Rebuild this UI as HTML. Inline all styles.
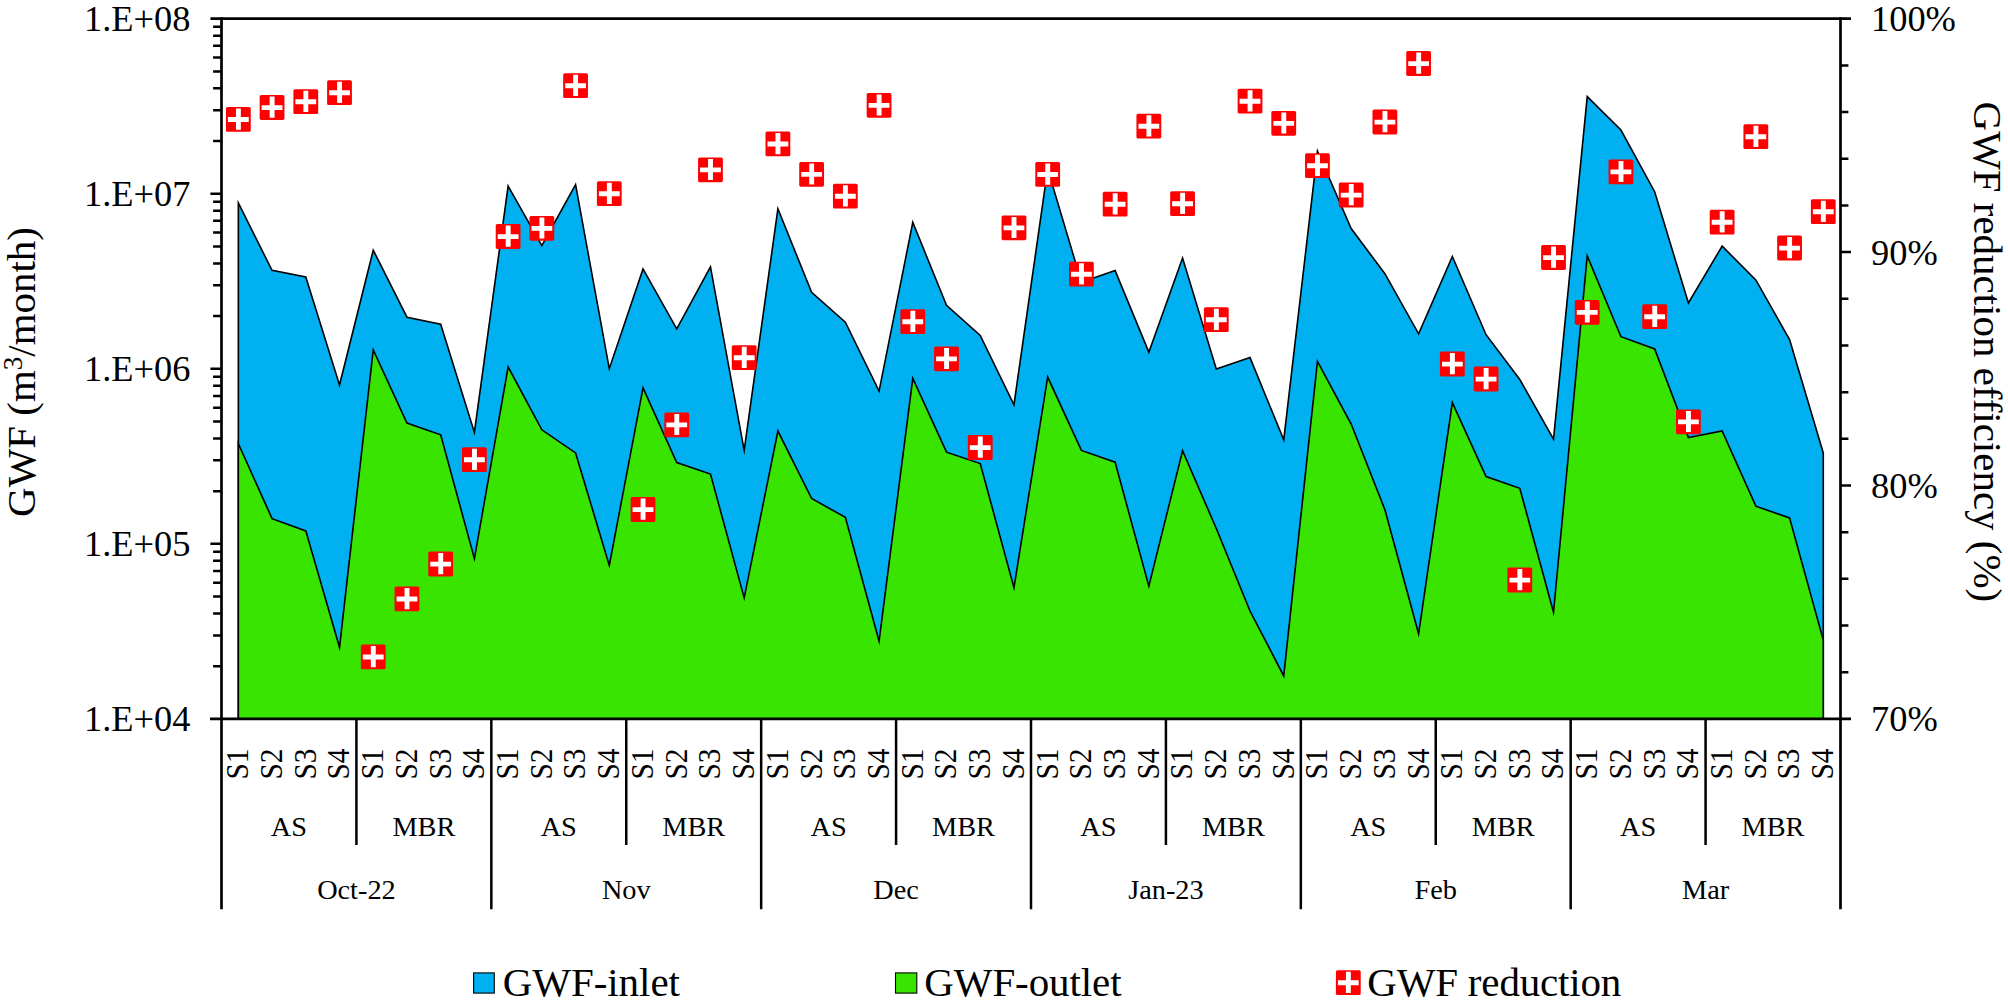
<!DOCTYPE html>
<html lang="en"><head><meta charset="utf-8"><title>GWF chart</title>
<style>html,body{margin:0;padding:0;background:#fff}svg{display:block}text{font-family:'Liberation Serif',serif;fill:#000}</style></head><body>
<svg width="2008" height="1008" viewBox="0 0 2008 1008">
<rect width="2008" height="1008" fill="#fff"/>
<polygon points="238.35,718.90 238.35,202.93 272.07,270.40 305.79,276.90 339.52,385.00 373.24,250.16 406.96,317.20 440.68,324.20 474.40,432.44 508.13,186.06 541.85,245.66 575.57,184.70 609.29,368.68 643.01,268.90 676.74,328.85 710.46,266.91 744.18,450.35 777.90,208.76 811.62,292.30 845.35,322.20 879.07,391.14 912.79,222.31 946.51,305.30 980.23,335.40 1013.96,404.73 1047.68,169.00 1081.40,282.18 1115.12,270.61 1148.84,352.17 1182.57,258.00 1216.29,368.98 1250.01,357.61 1283.73,439.88 1317.45,150.95 1351.18,228.60 1384.90,273.70 1418.62,333.79 1452.34,256.52 1486.06,334.70 1519.79,379.50 1553.51,439.18 1587.23,96.59 1620.95,130.00 1654.67,191.70 1688.40,303.00 1722.12,246.16 1755.84,279.90 1789.56,339.60 1823.28,452.90 1823.28,718.90" fill="#00B0F0" stroke="#000" stroke-width="1.6" stroke-linejoin="miter" stroke-miterlimit="10"/>
<polygon points="238.35,718.90 238.35,443.61 272.07,518.70 305.79,530.90 339.52,647.34 373.24,349.89 406.96,423.10 440.68,434.80 474.40,558.64 508.13,367.03 541.85,429.80 575.57,452.90 609.29,565.49 643.01,387.84 676.74,462.50 710.46,474.10 744.18,597.84 777.90,431.04 811.62,498.50 845.35,517.40 879.07,641.13 912.79,378.46 946.51,452.20 980.23,463.60 1013.96,587.67 1047.68,377.09 1081.40,450.40 1115.12,462.20 1148.84,586.19 1182.57,450.76 1216.29,528.50 1250.01,611.00 1283.73,675.92 1317.45,361.45 1351.18,424.00 1384.90,509.70 1418.62,633.71 1452.34,402.63 1486.06,476.60 1519.79,488.30 1553.51,612.24 1587.23,255.86 1620.95,336.70 1654.67,348.90 1688.40,437.53 1722.12,430.96 1755.84,506.20 1789.56,517.90 1823.28,640.00 1823.28,718.90" fill="#38E400" stroke="#000" stroke-width="1.6" stroke-linejoin="miter" stroke-miterlimit="10"/>
<g stroke="#000" fill="none" stroke-linecap="butt">
<path stroke-width="2.7" d="M210.40 18.70H1851.00"/>
<path stroke-width="2.7" d="M210.00 718.90H1851.00"/>
<path stroke-width="2.7" d="M221.50 17.35V909.20"/>
<path stroke-width="2.7" d="M1840.50 17.35V909.20"/>
<path stroke-width="2.5" d="M213.1 141.05H221.50M213.1 110.23H221.50M213.1 88.36H221.50M213.1 71.40H221.50M213.1 57.53H221.50M213.1 45.82H221.50M213.1 35.66H221.50M213.1 26.71H221.50M210.4 193.75H221.50M213.1 316.10H221.50M213.1 285.28H221.50M213.1 263.41H221.50M213.1 246.45H221.50M213.1 232.58H221.50M213.1 220.87H221.50M213.1 210.71H221.50M213.1 201.76H221.50M210.4 368.80H221.50M213.1 491.15H221.50M213.1 460.33H221.50M213.1 438.46H221.50M213.1 421.50H221.50M213.1 407.63H221.50M213.1 395.92H221.50M213.1 385.76H221.50M213.1 376.81H221.50M210.4 543.85H221.50M213.1 666.20H221.50M213.1 635.38H221.50M213.1 613.51H221.50M213.1 596.55H221.50M213.1 582.68H221.50M213.1 570.97H221.50M213.1 560.81H221.50M213.1 551.86H221.50"/>
<path stroke-width="2.5" d="M1840.50 65.38H1848.40M1840.50 112.06H1848.40M1840.50 158.74H1848.40M1840.50 205.42H1848.40M1840.50 252.10H1851.00M1840.50 298.78H1848.40M1840.50 345.46H1848.40M1840.50 392.14H1848.40M1840.50 438.82H1848.40M1840.50 485.50H1851.00M1840.50 532.18H1848.40M1840.50 578.86H1848.40M1840.50 625.54H1848.40M1840.50 672.22H1848.40"/>
<path stroke-width="2.5" d="M356.42 718.90V844.90M491.33 718.90V909.20M626.25 718.90V844.90M761.17 718.90V909.20M896.08 718.90V844.90M1031.00 718.90V909.20M1165.92 718.90V844.90M1300.83 718.90V909.20M1435.75 718.90V844.90M1570.67 718.90V909.20M1705.58 718.90V844.90"/>
</g>
<g>
<rect x="225.95" y="107.00" width="24.8" height="24.8" rx="1.6" fill="#FF0000"/><path d="M227.95 119.50h20.8M238.40 108.50v21.2" stroke="#fff" stroke-width="4.9" fill="none"/>
<rect x="259.67" y="95.10" width="24.8" height="24.8" rx="1.6" fill="#FF0000"/><path d="M261.67 107.60h20.8M272.12 96.60v21.2" stroke="#fff" stroke-width="4.9" fill="none"/>
<rect x="293.39" y="89.20" width="24.8" height="24.8" rx="1.6" fill="#FF0000"/><path d="M295.39 101.70h20.8M305.84 90.70v21.2" stroke="#fff" stroke-width="4.9" fill="none"/>
<rect x="327.12" y="80.20" width="24.8" height="24.8" rx="1.6" fill="#FF0000"/><path d="M329.12 92.70h20.8M339.57 81.70v21.2" stroke="#fff" stroke-width="4.9" fill="none"/>
<rect x="360.84" y="644.50" width="24.8" height="24.8" rx="1.6" fill="#FF0000"/><path d="M362.84 657.00h20.8M373.29 646.00v21.2" stroke="#fff" stroke-width="4.9" fill="none"/>
<rect x="394.56" y="586.50" width="24.8" height="24.8" rx="1.6" fill="#FF0000"/><path d="M396.56 599.00h20.8M407.01 588.00v21.2" stroke="#fff" stroke-width="4.9" fill="none"/>
<rect x="428.28" y="551.60" width="24.8" height="24.8" rx="1.6" fill="#FF0000"/><path d="M430.28 564.10h20.8M440.73 553.10v21.2" stroke="#fff" stroke-width="4.9" fill="none"/>
<rect x="462.00" y="447.30" width="24.8" height="24.8" rx="1.6" fill="#FF0000"/><path d="M464.00 459.80h20.8M474.45 448.80v21.2" stroke="#fff" stroke-width="4.9" fill="none"/>
<rect x="495.73" y="224.10" width="24.8" height="24.8" rx="1.6" fill="#FF0000"/><path d="M497.73 236.60h20.8M508.18 225.60v21.2" stroke="#fff" stroke-width="4.9" fill="none"/>
<rect x="529.45" y="215.90" width="24.8" height="24.8" rx="1.6" fill="#FF0000"/><path d="M531.45 228.40h20.8M541.90 217.40v21.2" stroke="#fff" stroke-width="4.9" fill="none"/>
<rect x="563.17" y="73.30" width="24.8" height="24.8" rx="1.6" fill="#FF0000"/><path d="M565.17 85.80h20.8M575.62 74.80v21.2" stroke="#fff" stroke-width="4.9" fill="none"/>
<rect x="596.89" y="181.30" width="24.8" height="24.8" rx="1.6" fill="#FF0000"/><path d="M598.89 193.80h20.8M609.34 182.80v21.2" stroke="#fff" stroke-width="4.9" fill="none"/>
<rect x="630.61" y="497.10" width="24.8" height="24.8" rx="1.6" fill="#FF0000"/><path d="M632.61 509.60h20.8M643.06 498.60v21.2" stroke="#fff" stroke-width="4.9" fill="none"/>
<rect x="664.34" y="412.40" width="24.8" height="24.8" rx="1.6" fill="#FF0000"/><path d="M666.34 424.90h20.8M676.79 413.90v21.2" stroke="#fff" stroke-width="4.9" fill="none"/>
<rect x="698.06" y="157.40" width="24.8" height="24.8" rx="1.6" fill="#FF0000"/><path d="M700.06 169.90h20.8M710.51 158.90v21.2" stroke="#fff" stroke-width="4.9" fill="none"/>
<rect x="731.78" y="345.20" width="24.8" height="24.8" rx="1.6" fill="#FF0000"/><path d="M733.78 357.70h20.8M744.23 346.70v21.2" stroke="#fff" stroke-width="4.9" fill="none"/>
<rect x="765.50" y="131.50" width="24.8" height="24.8" rx="1.6" fill="#FF0000"/><path d="M767.50 144.00h20.8M777.95 133.00v21.2" stroke="#fff" stroke-width="4.9" fill="none"/>
<rect x="799.22" y="161.90" width="24.8" height="24.8" rx="1.6" fill="#FF0000"/><path d="M801.22 174.40h20.8M811.67 163.40v21.2" stroke="#fff" stroke-width="4.9" fill="none"/>
<rect x="832.95" y="183.80" width="24.8" height="24.8" rx="1.6" fill="#FF0000"/><path d="M834.95 196.30h20.8M845.40 185.30v21.2" stroke="#fff" stroke-width="4.9" fill="none"/>
<rect x="866.67" y="92.90" width="24.8" height="24.8" rx="1.6" fill="#FF0000"/><path d="M868.67 105.40h20.8M879.12 94.40v21.2" stroke="#fff" stroke-width="4.9" fill="none"/>
<rect x="900.39" y="309.30" width="24.8" height="24.8" rx="1.6" fill="#FF0000"/><path d="M902.39 321.80h20.8M912.84 310.80v21.2" stroke="#fff" stroke-width="4.9" fill="none"/>
<rect x="934.11" y="346.40" width="24.8" height="24.8" rx="1.6" fill="#FF0000"/><path d="M936.11 358.90h20.8M946.56 347.90v21.2" stroke="#fff" stroke-width="4.9" fill="none"/>
<rect x="967.83" y="435.10" width="24.8" height="24.8" rx="1.6" fill="#FF0000"/><path d="M969.83 447.60h20.8M980.28 436.60v21.2" stroke="#fff" stroke-width="4.9" fill="none"/>
<rect x="1001.56" y="215.40" width="24.8" height="24.8" rx="1.6" fill="#FF0000"/><path d="M1003.56 227.90h20.8M1014.01 216.90v21.2" stroke="#fff" stroke-width="4.9" fill="none"/>
<rect x="1035.28" y="162.00" width="24.8" height="24.8" rx="1.6" fill="#FF0000"/><path d="M1037.28 174.50h20.8M1047.73 163.50v21.2" stroke="#fff" stroke-width="4.9" fill="none"/>
<rect x="1069.00" y="261.70" width="24.8" height="24.8" rx="1.6" fill="#FF0000"/><path d="M1071.00 274.20h20.8M1081.45 263.20v21.2" stroke="#fff" stroke-width="4.9" fill="none"/>
<rect x="1102.72" y="191.80" width="24.8" height="24.8" rx="1.6" fill="#FF0000"/><path d="M1104.72 204.30h20.8M1115.17 193.30v21.2" stroke="#fff" stroke-width="4.9" fill="none"/>
<rect x="1136.44" y="113.80" width="24.8" height="24.8" rx="1.6" fill="#FF0000"/><path d="M1138.44 126.30h20.8M1148.89 115.30v21.2" stroke="#fff" stroke-width="4.9" fill="none"/>
<rect x="1170.17" y="191.30" width="24.8" height="24.8" rx="1.6" fill="#FF0000"/><path d="M1172.17 203.80h20.8M1182.62 192.80v21.2" stroke="#fff" stroke-width="4.9" fill="none"/>
<rect x="1203.89" y="307.30" width="24.8" height="24.8" rx="1.6" fill="#FF0000"/><path d="M1205.89 319.80h20.8M1216.34 308.80v21.2" stroke="#fff" stroke-width="4.9" fill="none"/>
<rect x="1237.61" y="88.70" width="24.8" height="24.8" rx="1.6" fill="#FF0000"/><path d="M1239.61 101.20h20.8M1250.06 90.20v21.2" stroke="#fff" stroke-width="4.9" fill="none"/>
<rect x="1271.33" y="110.90" width="24.8" height="24.8" rx="1.6" fill="#FF0000"/><path d="M1273.33 123.40h20.8M1283.78 112.40v21.2" stroke="#fff" stroke-width="4.9" fill="none"/>
<rect x="1305.05" y="153.20" width="24.8" height="24.8" rx="1.6" fill="#FF0000"/><path d="M1307.05 165.70h20.8M1317.50 154.70v21.2" stroke="#fff" stroke-width="4.9" fill="none"/>
<rect x="1338.78" y="182.60" width="24.8" height="24.8" rx="1.6" fill="#FF0000"/><path d="M1340.78 195.10h20.8M1351.23 184.10v21.2" stroke="#fff" stroke-width="4.9" fill="none"/>
<rect x="1372.50" y="109.60" width="24.8" height="24.8" rx="1.6" fill="#FF0000"/><path d="M1374.50 122.10h20.8M1384.95 111.10v21.2" stroke="#fff" stroke-width="4.9" fill="none"/>
<rect x="1406.22" y="51.10" width="24.8" height="24.8" rx="1.6" fill="#FF0000"/><path d="M1408.22 63.60h20.8M1418.67 52.60v21.2" stroke="#fff" stroke-width="4.9" fill="none"/>
<rect x="1439.94" y="351.60" width="24.8" height="24.8" rx="1.6" fill="#FF0000"/><path d="M1441.94 364.10h20.8M1452.39 353.10v21.2" stroke="#fff" stroke-width="4.9" fill="none"/>
<rect x="1473.66" y="366.60" width="24.8" height="24.8" rx="1.6" fill="#FF0000"/><path d="M1475.66 379.10h20.8M1486.11 368.10v21.2" stroke="#fff" stroke-width="4.9" fill="none"/>
<rect x="1507.39" y="567.60" width="24.8" height="24.8" rx="1.6" fill="#FF0000"/><path d="M1509.39 580.10h20.8M1519.84 569.10v21.2" stroke="#fff" stroke-width="4.9" fill="none"/>
<rect x="1541.11" y="245.10" width="24.8" height="24.8" rx="1.6" fill="#FF0000"/><path d="M1543.11 257.60h20.8M1553.56 246.60v21.2" stroke="#fff" stroke-width="4.9" fill="none"/>
<rect x="1574.83" y="299.90" width="24.8" height="24.8" rx="1.6" fill="#FF0000"/><path d="M1576.83 312.40h20.8M1587.28 301.40v21.2" stroke="#fff" stroke-width="4.9" fill="none"/>
<rect x="1608.55" y="159.40" width="24.8" height="24.8" rx="1.6" fill="#FF0000"/><path d="M1610.55 171.90h20.8M1621.00 160.90v21.2" stroke="#fff" stroke-width="4.9" fill="none"/>
<rect x="1642.27" y="304.30" width="24.8" height="24.8" rx="1.6" fill="#FF0000"/><path d="M1644.27 316.80h20.8M1654.72 305.80v21.2" stroke="#fff" stroke-width="4.9" fill="none"/>
<rect x="1676.00" y="409.40" width="24.8" height="24.8" rx="1.6" fill="#FF0000"/><path d="M1678.00 421.90h20.8M1688.45 410.90v21.2" stroke="#fff" stroke-width="4.9" fill="none"/>
<rect x="1709.72" y="209.70" width="24.8" height="24.8" rx="1.6" fill="#FF0000"/><path d="M1711.72 222.20h20.8M1722.17 211.20v21.2" stroke="#fff" stroke-width="4.9" fill="none"/>
<rect x="1743.44" y="124.30" width="24.8" height="24.8" rx="1.6" fill="#FF0000"/><path d="M1745.44 136.80h20.8M1755.89 125.80v21.2" stroke="#fff" stroke-width="4.9" fill="none"/>
<rect x="1777.16" y="235.60" width="24.8" height="24.8" rx="1.6" fill="#FF0000"/><path d="M1779.16 248.10h20.8M1789.61 237.10v21.2" stroke="#fff" stroke-width="4.9" fill="none"/>
<rect x="1810.88" y="199.30" width="24.8" height="24.8" rx="1.6" fill="#FF0000"/><path d="M1812.88 211.80h20.8M1823.33 200.80v21.2" stroke="#fff" stroke-width="4.9" fill="none"/>
</g>
<text x="190.5" y="31.10" font-size="36.4" text-anchor="end">1.E+08</text>
<text x="190.5" y="206.15" font-size="36.4" text-anchor="end">1.E+07</text>
<text x="190.5" y="381.20" font-size="36.4" text-anchor="end">1.E+06</text>
<text x="190.5" y="556.25" font-size="36.4" text-anchor="end">1.E+05</text>
<text x="190.5" y="731.30" font-size="36.4" text-anchor="end">1.E+04</text>
<text x="1871" y="31.10" font-size="36.4">100%</text>
<text x="1871" y="264.50" font-size="36.4">90%</text>
<text x="1871" y="497.90" font-size="36.4">80%</text>
<text x="1871" y="731.30" font-size="36.4">70%</text>
<text transform="translate(248.25 779.6) rotate(-90) scale(1 1.07)" font-size="29.3">S1</text>
<text transform="translate(281.97 779.6) rotate(-90) scale(1 1.07)" font-size="29.3">S2</text>
<text transform="translate(315.69 779.6) rotate(-90) scale(1 1.07)" font-size="29.3">S3</text>
<text transform="translate(349.42 779.6) rotate(-90) scale(1 1.07)" font-size="29.3">S4</text>
<text transform="translate(383.14 779.6) rotate(-90) scale(1 1.07)" font-size="29.3">S1</text>
<text transform="translate(416.86 779.6) rotate(-90) scale(1 1.07)" font-size="29.3">S2</text>
<text transform="translate(450.58 779.6) rotate(-90) scale(1 1.07)" font-size="29.3">S3</text>
<text transform="translate(484.30 779.6) rotate(-90) scale(1 1.07)" font-size="29.3">S4</text>
<text transform="translate(518.03 779.6) rotate(-90) scale(1 1.07)" font-size="29.3">S1</text>
<text transform="translate(551.75 779.6) rotate(-90) scale(1 1.07)" font-size="29.3">S2</text>
<text transform="translate(585.47 779.6) rotate(-90) scale(1 1.07)" font-size="29.3">S3</text>
<text transform="translate(619.19 779.6) rotate(-90) scale(1 1.07)" font-size="29.3">S4</text>
<text transform="translate(652.91 779.6) rotate(-90) scale(1 1.07)" font-size="29.3">S1</text>
<text transform="translate(686.64 779.6) rotate(-90) scale(1 1.07)" font-size="29.3">S2</text>
<text transform="translate(720.36 779.6) rotate(-90) scale(1 1.07)" font-size="29.3">S3</text>
<text transform="translate(754.08 779.6) rotate(-90) scale(1 1.07)" font-size="29.3">S4</text>
<text transform="translate(787.80 779.6) rotate(-90) scale(1 1.07)" font-size="29.3">S1</text>
<text transform="translate(821.52 779.6) rotate(-90) scale(1 1.07)" font-size="29.3">S2</text>
<text transform="translate(855.25 779.6) rotate(-90) scale(1 1.07)" font-size="29.3">S3</text>
<text transform="translate(888.97 779.6) rotate(-90) scale(1 1.07)" font-size="29.3">S4</text>
<text transform="translate(922.69 779.6) rotate(-90) scale(1 1.07)" font-size="29.3">S1</text>
<text transform="translate(956.41 779.6) rotate(-90) scale(1 1.07)" font-size="29.3">S2</text>
<text transform="translate(990.13 779.6) rotate(-90) scale(1 1.07)" font-size="29.3">S3</text>
<text transform="translate(1023.86 779.6) rotate(-90) scale(1 1.07)" font-size="29.3">S4</text>
<text transform="translate(1057.58 779.6) rotate(-90) scale(1 1.07)" font-size="29.3">S1</text>
<text transform="translate(1091.30 779.6) rotate(-90) scale(1 1.07)" font-size="29.3">S2</text>
<text transform="translate(1125.02 779.6) rotate(-90) scale(1 1.07)" font-size="29.3">S3</text>
<text transform="translate(1158.74 779.6) rotate(-90) scale(1 1.07)" font-size="29.3">S4</text>
<text transform="translate(1192.47 779.6) rotate(-90) scale(1 1.07)" font-size="29.3">S1</text>
<text transform="translate(1226.19 779.6) rotate(-90) scale(1 1.07)" font-size="29.3">S2</text>
<text transform="translate(1259.91 779.6) rotate(-90) scale(1 1.07)" font-size="29.3">S3</text>
<text transform="translate(1293.63 779.6) rotate(-90) scale(1 1.07)" font-size="29.3">S4</text>
<text transform="translate(1327.35 779.6) rotate(-90) scale(1 1.07)" font-size="29.3">S1</text>
<text transform="translate(1361.08 779.6) rotate(-90) scale(1 1.07)" font-size="29.3">S2</text>
<text transform="translate(1394.80 779.6) rotate(-90) scale(1 1.07)" font-size="29.3">S3</text>
<text transform="translate(1428.52 779.6) rotate(-90) scale(1 1.07)" font-size="29.3">S4</text>
<text transform="translate(1462.24 779.6) rotate(-90) scale(1 1.07)" font-size="29.3">S1</text>
<text transform="translate(1495.96 779.6) rotate(-90) scale(1 1.07)" font-size="29.3">S2</text>
<text transform="translate(1529.69 779.6) rotate(-90) scale(1 1.07)" font-size="29.3">S3</text>
<text transform="translate(1563.41 779.6) rotate(-90) scale(1 1.07)" font-size="29.3">S4</text>
<text transform="translate(1597.13 779.6) rotate(-90) scale(1 1.07)" font-size="29.3">S1</text>
<text transform="translate(1630.85 779.6) rotate(-90) scale(1 1.07)" font-size="29.3">S2</text>
<text transform="translate(1664.57 779.6) rotate(-90) scale(1 1.07)" font-size="29.3">S3</text>
<text transform="translate(1698.30 779.6) rotate(-90) scale(1 1.07)" font-size="29.3">S4</text>
<text transform="translate(1732.02 779.6) rotate(-90) scale(1 1.07)" font-size="29.3">S1</text>
<text transform="translate(1765.74 779.6) rotate(-90) scale(1 1.07)" font-size="29.3">S2</text>
<text transform="translate(1799.46 779.6) rotate(-90) scale(1 1.07)" font-size="29.3">S3</text>
<text transform="translate(1833.18 779.6) rotate(-90) scale(1 1.07)" font-size="29.3">S4</text>
<text x="288.96" y="835.7" font-size="28.3" text-anchor="middle">AS</text>
<text x="423.88" y="835.7" font-size="28.3" text-anchor="middle">MBR</text>
<text x="558.79" y="835.7" font-size="28.3" text-anchor="middle">AS</text>
<text x="693.71" y="835.7" font-size="28.3" text-anchor="middle">MBR</text>
<text x="828.62" y="835.7" font-size="28.3" text-anchor="middle">AS</text>
<text x="963.54" y="835.7" font-size="28.3" text-anchor="middle">MBR</text>
<text x="1098.46" y="835.7" font-size="28.3" text-anchor="middle">AS</text>
<text x="1233.38" y="835.7" font-size="28.3" text-anchor="middle">MBR</text>
<text x="1368.29" y="835.7" font-size="28.3" text-anchor="middle">AS</text>
<text x="1503.21" y="835.7" font-size="28.3" text-anchor="middle">MBR</text>
<text x="1638.12" y="835.7" font-size="28.3" text-anchor="middle">AS</text>
<text x="1773.04" y="835.7" font-size="28.3" text-anchor="middle">MBR</text>
<text x="356.42" y="899.2" font-size="28.3" text-anchor="middle">Oct-22</text>
<text x="626.25" y="899.2" font-size="28.3" text-anchor="middle">Nov</text>
<text x="896.08" y="899.2" font-size="28.3" text-anchor="middle">Dec</text>
<text x="1165.92" y="899.2" font-size="28.3" text-anchor="middle">Jan-23</text>
<text x="1435.75" y="899.2" font-size="28.3" text-anchor="middle">Feb</text>
<text x="1705.58" y="899.2" font-size="28.3" text-anchor="middle">Mar</text>
<text transform="translate(34.7 372) rotate(-90)" font-size="40.95" text-anchor="middle">GWF (m<tspan font-size="27" dy="-12.8">3</tspan><tspan dy="12.8">/month)</tspan></text>
<text transform="translate(1973.5 101.6) rotate(90)" font-size="40.95">GWF reduction efficiency (%)</text>
<rect x="473.6" y="972.9" width="20.7" height="20.2" fill="#00B0F0" stroke="#000" stroke-width="1.1"/>
<text x="502.7" y="995.7" font-size="41" letter-spacing="-0.05">GWF-inlet</text>
<rect x="895.5" y="972.9" width="21.3" height="20.2" fill="#38E400" stroke="#000" stroke-width="1.1"/>
<text x="924.3" y="995.7" font-size="41" letter-spacing="-0.1">GWF-outlet</text>
<rect x="1335.90" y="970.20" width="24.8" height="24.8" rx="1.6" fill="#FF0000"/><path d="M1337.90 982.70h20.8M1348.35 971.70v21.2" stroke="#fff" stroke-width="4.9" fill="none"/>
<text x="1367.2" y="995.7" font-size="41" letter-spacing="-0.17">GWF reduction</text>
</svg></body></html>
